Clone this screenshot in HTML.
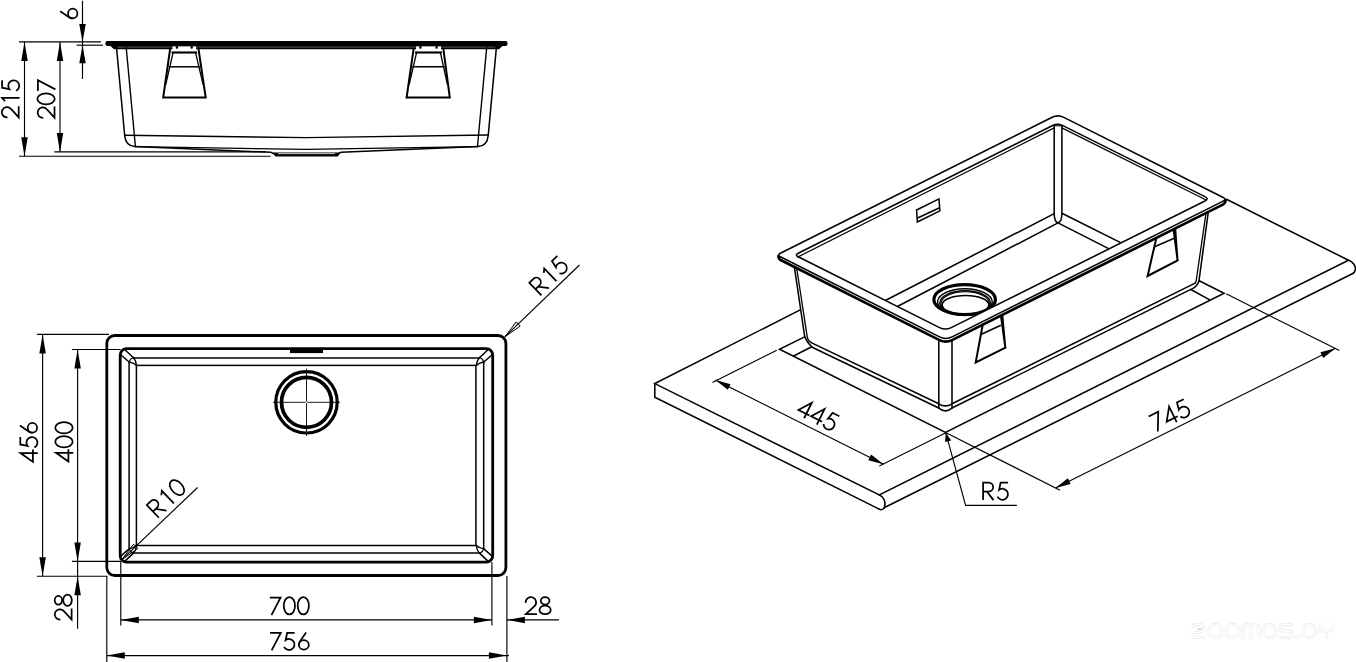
<!DOCTYPE html>
<html><head><meta charset="utf-8"><title>Sink drawing</title>
<style>html,body{margin:0;padding:0;background:#fff;}body{width:1356px;height:662px;overflow:hidden;font-family:"Liberation Sans",sans-serif;}svg{display:block;}</style></head>
<body>
<svg width="1356" height="662" viewBox="0 0 1356 662">
<rect width="1356" height="662" fill="#fff"/>
<g id="side">
<line x1="19" y1="41.9" x2="101" y2="41.9" stroke="#000" stroke-width="1.15" stroke-linecap="butt"/>
<line x1="76.7" y1="45.2" x2="103" y2="45.2" stroke="#000" stroke-width="1.15" stroke-linecap="butt"/>
<line x1="54.4" y1="151.9" x2="266" y2="151.9" stroke="#000" stroke-width="1.15" stroke-linecap="butt"/>
<line x1="19" y1="156.2" x2="270.5" y2="156.2" stroke="#000" stroke-width="1.15" stroke-linecap="butt"/>
<line x1="24.5" y1="41.9" x2="24.5" y2="156.2" stroke="#000" stroke-width="1.15" stroke-linecap="butt"/>
<polygon points="24.5,41.9 27.75,60.9 21.25,60.9" fill="#000" stroke="none" stroke-width="0" stroke-linejoin="miter"/>
<polygon points="24.5,156.2 21.25,137.2 27.75,137.2" fill="#000" stroke="none" stroke-width="0" stroke-linejoin="miter"/>
<line x1="60" y1="41.9" x2="60" y2="151.9" stroke="#000" stroke-width="1.15" stroke-linecap="butt"/>
<polygon points="60,41.9 63.25,60.9 56.75,60.9" fill="#000" stroke="none" stroke-width="0" stroke-linejoin="miter"/>
<polygon points="60,151.9 56.75,132.9 63.25,132.9" fill="#000" stroke="none" stroke-width="0" stroke-linejoin="miter"/>
<line x1="82.5" y1="0.8" x2="82.5" y2="79" stroke="#000" stroke-width="1.15" stroke-linecap="butt"/>
<polygon points="82.5,41.9 79.25,23.9 85.75,23.9" fill="#000" stroke="none" stroke-width="0" stroke-linejoin="miter"/>
<polygon points="82.5,45.2 85.75,63.2 79.25,63.2" fill="#000" stroke="none" stroke-width="0" stroke-linejoin="miter"/>
<g transform="translate(19.6,98.8) rotate(-90)" fill="none" stroke="#000" stroke-width="1.75" stroke-linecap="butt" stroke-linejoin="miter">
<g transform="translate(-20.1,0)"><path d="M1.45,-12.1 A5.2,5.2 0 1 1 9.95,-8.6 L1.5,-0.9 H12.7"/></g>
<g transform="translate(-6.7,0)"><path d="M4.2,-14.6 L7.6,-17.5 V0"/></g>
<g transform="translate(6.7,0)"><path d="M11.9,-17.5 H4.4 L2.9,-10.2 A5.5,5.5 0 1 1 1.3,-3.5"/></g>
</g>
<g transform="translate(55.4,98.95) rotate(-90)" fill="none" stroke="#000" stroke-width="1.75" stroke-linecap="butt" stroke-linejoin="miter">
<g transform="translate(-20.25,0)"><path d="M1.45,-12.1 A5.2,5.2 0 1 1 9.95,-8.6 L1.5,-0.9 H12.7"/></g>
<g transform="translate(-6.75,0)"><ellipse cx="6.85" cy="-9.35" rx="5.6" ry="8.7"/></g>
<g transform="translate(6.75,0)"><path d="M1.2,-17.5 H11.9 L2.8,0"/></g>
</g>
<g transform="translate(78.1,13.75) rotate(-90)" fill="none" stroke="#000" stroke-width="1.75" stroke-linecap="butt" stroke-linejoin="miter">
<g transform="translate(-6.95,0)"><path d="M9.4,-17.9 L3.3,-8.7 Q2.2,-7 2.25,-5.4"/><ellipse cx="7.2" cy="-5.4" rx="4.95" ry="4.7"/></g>
</g>
<rect x="105.4" y="41.1" width="402.1" height="4.8" rx="2" fill="#000"/>
<polygon points="109.5,45 503.5,45 499,49.2 113.8,49.2" fill="#000" stroke="none" stroke-width="0" stroke-linejoin="miter"/>
<rect x="117" y="46.7" width="378.5" height="0.8" fill="#666"/>
<path d="M116.5,47.4 L124.7,135.6 Q125.7,146 135,146.6" fill="none" stroke="#000" stroke-width="1.5" stroke-linejoin="round" stroke-linecap="round"/>
<path d="M126.2,47.4 L135.4,146.3" fill="none" stroke="#000" stroke-width="1.4" stroke-linejoin="round" stroke-linecap="round"/>
<path d="M496.4,47.4 L488.2,135.6 Q487.2,146 477.9,146.6" fill="none" stroke="#000" stroke-width="1.5" stroke-linejoin="round" stroke-linecap="round"/>
<path d="M486.7,47.4 L477.5,146.3" fill="none" stroke="#000" stroke-width="1.4" stroke-linejoin="round" stroke-linecap="round"/>
<path d="M124.6,135.3 L306.4,137.6 L488.3,135" fill="none" stroke="#000" stroke-width="1.4" stroke-linejoin="round" stroke-linecap="round"/>
<path d="M135,146.6 L306.4,149.4 L477.9,146.6" fill="none" stroke="#000" stroke-width="1.3" stroke-linejoin="round" stroke-linecap="round"/>
<path d="M135,146.6 L271,152.3 L273.5,153.6" fill="none" stroke="#000" stroke-width="1.5" stroke-linejoin="round" stroke-linecap="round"/>
<path d="M477.9,146.6 L341,152.3 L338.5,153.6" fill="none" stroke="#000" stroke-width="1.5" stroke-linejoin="round" stroke-linecap="round"/>
<polygon points="272.5,152.6 340.6,152.6 337.8,156.6 275.3,156.6" fill="#000" stroke="none" stroke-width="0" stroke-linejoin="miter"/>
<rect x="278" y="153.3" width="57" height="0.8" fill="#fff"/>
<path d="M170.3,47.6 L163.2,97.5 H205.7 L198.3,47.6" fill="none" stroke="#000" stroke-width="2.0" stroke-linejoin="miter" stroke-linecap="butt"/>
<path d="M173.20000000000002,52.1 L165.83636363636361,84" fill="none" stroke="#000" stroke-width="1.3" stroke-linejoin="round" stroke-linecap="round"/>
<path d="M195.4,52.1 L202.9818181818182,84" fill="none" stroke="#000" stroke-width="1.3" stroke-linejoin="round" stroke-linecap="round"/>
<rect x="172.5" y="46.4" width="23.6" height="4.9" fill="#fff"/>
<line x1="171.5" y1="52.5" x2="197.1" y2="52.5" stroke="#000" stroke-width="2.1" stroke-linecap="butt"/>
<line x1="168.7" y1="66.8" x2="199.9" y2="66.8" stroke="#000" stroke-width="1.5" stroke-linecap="butt"/>
<rect x="175.70000000000002" y="46" width="2.4" height="2.8" rx="1" fill="#000"/>
<rect x="190.5" y="46" width="2.4" height="2.8" rx="1" fill="#000"/>
<path d="M413.8,47.6 L406.6,97.5 H449.8 L443.2,47.6" fill="none" stroke="#000" stroke-width="2.0" stroke-linejoin="miter" stroke-linecap="butt"/>
<path d="M416.7,52.1 L409.26363636363635,84" fill="none" stroke="#000" stroke-width="1.3" stroke-linejoin="round" stroke-linecap="round"/>
<path d="M440.3,52.1 L447.3,84" fill="none" stroke="#000" stroke-width="1.3" stroke-linejoin="round" stroke-linecap="round"/>
<rect x="416.0" y="46.4" width="24.99999999999998" height="4.9" fill="#fff"/>
<line x1="415" y1="52.5" x2="442" y2="52.5" stroke="#000" stroke-width="2.1" stroke-linecap="butt"/>
<line x1="412.2" y1="66.8" x2="444.8" y2="66.8" stroke="#000" stroke-width="1.5" stroke-linecap="butt"/>
<rect x="419.2" y="46" width="2.4" height="2.8" rx="1" fill="#000"/>
<rect x="435.4" y="46" width="2.4" height="2.8" rx="1" fill="#000"/>
</g>
<g id="plan">
<line x1="37" y1="334.4" x2="109" y2="334.4" stroke="#000" stroke-width="1.15" stroke-linecap="butt"/>
<line x1="36.9" y1="576.2" x2="107.3" y2="576.2" stroke="#000" stroke-width="1.15" stroke-linecap="butt"/>
<line x1="71.9" y1="349.5" x2="120.5" y2="349.5" stroke="#000" stroke-width="1.15" stroke-linecap="butt"/>
<line x1="71.9" y1="561.4" x2="121.2" y2="561.4" stroke="#000" stroke-width="1.15" stroke-linecap="butt"/>
<line x1="42.6" y1="334.4" x2="42.6" y2="576.2" stroke="#000" stroke-width="1.15" stroke-linecap="butt"/>
<polygon points="42.6,334.4 45.85,353.4 39.35,353.4" fill="#000" stroke="none" stroke-width="0" stroke-linejoin="miter"/>
<polygon points="42.6,576.2 39.35,557.2 45.85,557.2" fill="#000" stroke="none" stroke-width="0" stroke-linejoin="miter"/>
<line x1="77.6" y1="349.5" x2="77.6" y2="561.4" stroke="#000" stroke-width="1.15" stroke-linecap="butt"/>
<polygon points="77.6,349.5 80.85,368.5 74.35,368.5" fill="#000" stroke="none" stroke-width="0" stroke-linejoin="miter"/>
<polygon points="77.6,561.4 74.35,542.4 80.85,542.4" fill="#000" stroke="none" stroke-width="0" stroke-linejoin="miter"/>
<line x1="77.6" y1="561.4" x2="77.6" y2="628.8" stroke="#000" stroke-width="1.15" stroke-linecap="butt"/>
<polygon points="77.6,576.2 80.85,595.2 74.35,595.2" fill="#000" stroke="none" stroke-width="0" stroke-linejoin="miter"/>
<g transform="translate(37.8,441.9) rotate(-90)" fill="none" stroke="#000" stroke-width="1.75" stroke-linecap="butt" stroke-linejoin="miter">
<g transform="translate(-20.85,0)"><path d="M9.7,0 V-17.3 L0.9,-4.9 H13.2"/></g>
<g transform="translate(-6.95,0)"><path d="M11.9,-17.5 H4.4 L2.9,-10.2 A5.5,5.5 0 1 1 1.3,-3.5"/></g>
<g transform="translate(6.95,0)"><path d="M9.4,-17.9 L3.3,-8.7 Q2.2,-7 2.25,-5.4"/><ellipse cx="7.2" cy="-5.4" rx="4.95" ry="4.7"/></g>
</g>
<g transform="translate(73.3,441.6) rotate(-90)" fill="none" stroke="#000" stroke-width="1.75" stroke-linecap="butt" stroke-linejoin="miter">
<g transform="translate(-20.85,0)"><path d="M9.7,0 V-17.3 L0.9,-4.9 H13.2"/></g>
<g transform="translate(-6.95,0)"><ellipse cx="6.85" cy="-9.35" rx="5.6" ry="8.7"/></g>
<g transform="translate(6.95,0)"><ellipse cx="6.85" cy="-9.35" rx="5.6" ry="8.7"/></g>
</g>
<g transform="translate(72.5,607.2) rotate(-90)" fill="none" stroke="#000" stroke-width="1.75" stroke-linecap="butt" stroke-linejoin="miter">
<g transform="translate(-13.9,0)"><path d="M1.45,-12.1 A5.2,5.2 0 1 1 9.95,-8.6 L1.5,-0.9 H12.7"/></g>
<g transform="translate(0,0)"><ellipse cx="6.9" cy="-14.1" rx="4.35" ry="3.7"/><ellipse cx="6.9" cy="-5.0" rx="5.6" ry="4.3"/></g>
</g>
<line x1="106.8" y1="576" x2="106.8" y2="662" stroke="#000" stroke-width="1.15" stroke-linecap="butt"/>
<line x1="506.9" y1="576" x2="506.9" y2="662" stroke="#000" stroke-width="1.15" stroke-linecap="butt"/>
<line x1="120.8" y1="562" x2="120.8" y2="625.5" stroke="#000" stroke-width="1.15" stroke-linecap="butt"/>
<line x1="491.9" y1="562" x2="491.9" y2="625.5" stroke="#000" stroke-width="1.15" stroke-linecap="butt"/>
<line x1="120.8" y1="619.9" x2="491.9" y2="619.9" stroke="#000" stroke-width="1.15" stroke-linecap="butt"/>
<polygon points="120.8,619.9 138.8,616.65 138.8,623.15" fill="#000" stroke="none" stroke-width="0" stroke-linejoin="miter"/>
<polygon points="491.9,619.9 473.9,623.15 473.9,616.65" fill="#000" stroke="none" stroke-width="0" stroke-linejoin="miter"/>
<line x1="106.8" y1="655.6" x2="509" y2="655.6" stroke="#000" stroke-width="1.15" stroke-linecap="butt"/>
<polygon points="106.8,655.6 124.8,652.35 124.8,658.85" fill="#000" stroke="none" stroke-width="0" stroke-linejoin="miter"/>
<polygon points="506.9,655.6 488.9,658.85 488.9,652.35" fill="#000" stroke="none" stroke-width="0" stroke-linejoin="miter"/>
<line x1="506.9" y1="619.9" x2="559" y2="619.9" stroke="#000" stroke-width="1.15" stroke-linecap="butt"/>
<polygon points="506.9,619.9 524.9,616.65 524.9,623.15" fill="#000" stroke="none" stroke-width="0" stroke-linejoin="miter"/>
<g transform="translate(289.5,615.1) rotate(0)" fill="none" stroke="#000" stroke-width="1.75" stroke-linecap="butt" stroke-linejoin="miter">
<g transform="translate(-20.85,0)"><path d="M1.2,-17.5 H11.9 L2.8,0"/></g>
<g transform="translate(-6.95,0)"><ellipse cx="6.85" cy="-9.35" rx="5.6" ry="8.7"/></g>
<g transform="translate(6.95,0)"><ellipse cx="6.85" cy="-9.35" rx="5.6" ry="8.7"/></g>
</g>
<g transform="translate(289.7,650.3) rotate(0)" fill="none" stroke="#000" stroke-width="1.75" stroke-linecap="butt" stroke-linejoin="miter">
<g transform="translate(-20.85,0)"><path d="M1.2,-17.5 H11.9 L2.8,0"/></g>
<g transform="translate(-6.95,0)"><path d="M11.9,-17.5 H4.4 L2.9,-10.2 A5.5,5.5 0 1 1 1.3,-3.5"/></g>
<g transform="translate(6.95,0)"><path d="M9.4,-17.9 L3.3,-8.7 Q2.2,-7 2.25,-5.4"/><ellipse cx="7.2" cy="-5.4" rx="4.95" ry="4.7"/></g>
</g>
<g transform="translate(538.2,614.9) rotate(0)" fill="none" stroke="#000" stroke-width="1.75" stroke-linecap="butt" stroke-linejoin="miter">
<g transform="translate(-13.9,0)"><path d="M1.45,-12.1 A5.2,5.2 0 1 1 9.95,-8.6 L1.5,-0.9 H12.7"/></g>
<g transform="translate(0,0)"><ellipse cx="6.9" cy="-14.1" rx="4.35" ry="3.7"/><ellipse cx="6.9" cy="-5.0" rx="5.6" ry="4.3"/></g>
</g>
<rect x="106.8" y="335.5" width="399.1" height="240" rx="8" fill="none" stroke="#000" stroke-width="2.8"/>
<rect x="120.2" y="348.7" width="372.5" height="213.5" rx="6.5" fill="none" stroke="#000" stroke-width="2.8"/>
<rect x="136.4" y="365.4" width="339.5" height="180.1" fill="none" stroke="#000" stroke-width="1.5"/>
<line x1="129.1" y1="362" x2="129.1" y2="548.9" stroke="#000" stroke-width="1.5" stroke-linecap="butt"/>
<line x1="483.7" y1="362" x2="483.7" y2="548.9" stroke="#000" stroke-width="1.5" stroke-linecap="butt"/>
<line x1="133.2" y1="358" x2="479.7" y2="358" stroke="#000" stroke-width="1.5" stroke-linecap="butt"/>
<line x1="133.2" y1="553" x2="479.7" y2="553" stroke="#000" stroke-width="1.5" stroke-linecap="butt"/>
<path d="M125.2,350 L133.2,357.5" fill="none" stroke="#000" stroke-width="1.5" stroke-linejoin="round" stroke-linecap="round"/>
<path d="M121,355 L129.1,362" fill="none" stroke="#000" stroke-width="1.5" stroke-linejoin="round" stroke-linecap="round"/>
<path d="M129.1,362 Q130.2,358.6 133.2,357.5" fill="none" stroke="#000" stroke-width="1.3" stroke-linejoin="round" stroke-linecap="round"/>
<path d="M129.1,362 Q133.5,362.6 136.4,365.4" fill="none" stroke="#000" stroke-width="1.3" stroke-linejoin="round" stroke-linecap="round"/>
<path d="M133.2,357.5 Q136.2,360.5 136.4,365.4" fill="none" stroke="#000" stroke-width="1.3" stroke-linejoin="round" stroke-linecap="round"/>
<path d="M125.2,560.9 L133.2,553.4" fill="none" stroke="#000" stroke-width="1.5" stroke-linejoin="round" stroke-linecap="round"/>
<path d="M121,555.9 L129.1,548.9" fill="none" stroke="#000" stroke-width="1.5" stroke-linejoin="round" stroke-linecap="round"/>
<path d="M129.1,548.9 Q130.2,552.3 133.2,553.4" fill="none" stroke="#000" stroke-width="1.3" stroke-linejoin="round" stroke-linecap="round"/>
<path d="M129.1,548.9 Q133.5,548.3 136.4,545.5" fill="none" stroke="#000" stroke-width="1.3" stroke-linejoin="round" stroke-linecap="round"/>
<path d="M133.2,553.4 Q136.2,550.4 136.4,545.5" fill="none" stroke="#000" stroke-width="1.3" stroke-linejoin="round" stroke-linecap="round"/>
<path d="M487.7,350 L479.7,357.5" fill="none" stroke="#000" stroke-width="1.5" stroke-linejoin="round" stroke-linecap="round"/>
<path d="M491.9,355 L483.8,362" fill="none" stroke="#000" stroke-width="1.5" stroke-linejoin="round" stroke-linecap="round"/>
<path d="M483.8,362 Q482.7,358.6 479.7,357.5" fill="none" stroke="#000" stroke-width="1.3" stroke-linejoin="round" stroke-linecap="round"/>
<path d="M483.8,362 Q479.4,362.6 476.5,365.4" fill="none" stroke="#000" stroke-width="1.3" stroke-linejoin="round" stroke-linecap="round"/>
<path d="M479.7,357.5 Q476.7,360.5 476.5,365.4" fill="none" stroke="#000" stroke-width="1.3" stroke-linejoin="round" stroke-linecap="round"/>
<path d="M487.7,560.9 L479.7,553.4" fill="none" stroke="#000" stroke-width="1.5" stroke-linejoin="round" stroke-linecap="round"/>
<path d="M491.9,555.9 L483.8,548.9" fill="none" stroke="#000" stroke-width="1.5" stroke-linejoin="round" stroke-linecap="round"/>
<path d="M483.8,548.9 Q482.7,552.3 479.7,553.4" fill="none" stroke="#000" stroke-width="1.3" stroke-linejoin="round" stroke-linecap="round"/>
<path d="M483.8,548.9 Q479.4,548.3 476.5,545.5" fill="none" stroke="#000" stroke-width="1.3" stroke-linejoin="round" stroke-linecap="round"/>
<path d="M479.7,553.4 Q476.7,550.4 476.5,545.5" fill="none" stroke="#000" stroke-width="1.3" stroke-linejoin="round" stroke-linecap="round"/>
<rect x="290" y="349.6" width="33" height="3.5" fill="#000"/>
<circle cx="306.5" cy="402.3" r="30.7" fill="none" stroke="#000" stroke-width="3.2"/>
<circle cx="306.5" cy="402.3" r="25" fill="none" stroke="#000" stroke-width="3.7"/>
<line x1="273" y1="402.3" x2="340" y2="402.3" stroke="#000" stroke-width="0.9" stroke-linecap="butt"/>
<line x1="306.5" y1="368.6" x2="306.5" y2="435.8" stroke="#000" stroke-width="0.9" stroke-linecap="butt"/>
<circle cx="306.5" cy="402.3" r="0.9" fill="#fff"/>
<line x1="197.6" y1="487.5" x2="121.6" y2="559.8" stroke="#000" stroke-width="1.15" stroke-linecap="butt"/>
<polygon points="121.6,559.8 133.66,544.19 137.8,548.53" fill="none" stroke="#000" stroke-width="1" stroke-linejoin="miter"/>
<g transform="translate(172.9,504.4) rotate(-43.6)" fill="none" stroke="#000" stroke-width="1.75" stroke-linecap="butt" stroke-linejoin="miter">
<g transform="translate(-21.55,0)"><path d="M2.2,0 V-17.5 H7.8 A4.45,4.45 0 0 1 7.8,-8.6 H2.2 M5.9,-8.6 L12.6,0"/></g>
<g transform="translate(-6.25,0)"><path d="M4.2,-14.6 L7.6,-17.5 V0"/></g>
<g transform="translate(7.65,0)"><ellipse cx="6.85" cy="-9.35" rx="5.6" ry="8.7"/></g>
</g>
<line x1="579.5" y1="265" x2="505" y2="336.7" stroke="#000" stroke-width="1.15" stroke-linecap="butt"/>
<polygon points="505,336.7 516.17,321.92 520.2,326.1" fill="none" stroke="#000" stroke-width="1" stroke-linejoin="miter"/>
<g transform="translate(555.4,282) rotate(-43.9)" fill="none" stroke="#000" stroke-width="1.75" stroke-linecap="butt" stroke-linejoin="miter">
<g transform="translate(-21.55,0)"><path d="M2.2,0 V-17.5 H7.8 A4.45,4.45 0 0 1 7.8,-8.6 H2.2 M5.9,-8.6 L12.6,0"/></g>
<g transform="translate(-6.25,0)"><path d="M4.2,-14.6 L7.6,-17.5 V0"/></g>
<g transform="translate(7.65,0)"><path d="M11.9,-17.5 H4.4 L2.9,-10.2 A5.5,5.5 0 1 1 1.3,-3.5"/></g>
</g>
</g>
<g id="iso">
<path d="M800.2,309.9 L654.8,383.6 L879.3,495 L1348.5,260.2 L1226.5,199.3" fill="none" stroke="#000" stroke-width="1.55" stroke-linejoin="miter" stroke-linecap="round"/>
<path d="M654.8,383.6 V397.3 L878.7,508.9" fill="none" stroke="#000" stroke-width="1.55" stroke-linejoin="miter" stroke-linecap="round"/>
<path d="M884.1,507.7 L1353.3,273.2" fill="none" stroke="#000" stroke-width="1.55" stroke-linejoin="round" stroke-linecap="round"/>
<path d="M879.3,495 C883.5,496.5 886.3,502 884.3,507.4 Q883.4,509.8 881,509.7 L878.7,508.9" fill="none" stroke="#000" stroke-width="1.55" stroke-linejoin="round" stroke-linecap="round"/>
<path d="M1348.5,260.2 C1352.5,261.3 1356.2,266 1355.2,270 Q1354.6,272.4 1353.3,273.2" fill="none" stroke="#000" stroke-width="1.55" stroke-linejoin="round" stroke-linecap="round"/>
<path d="M804.6,336.9 L779.5,349.3 L945.5,432.4 L1224.1,293.3 L1199.2,280.7" fill="none" stroke="#000" stroke-width="1.55" stroke-linejoin="miter" stroke-linecap="round"/>
<line x1="793.1" y1="356.2" x2="811.7" y2="346.8" stroke="#000" stroke-width="1.55" stroke-linecap="butt"/>
<line x1="1210.2" y1="300.1" x2="1190.8" y2="289.5" stroke="#000" stroke-width="1.55" stroke-linecap="butt"/>
<path d="M794.3,266.3 L804.6,336 Q806.4,341.8 811.8,346.7" fill="none" stroke="#000" stroke-width="1.55" stroke-linejoin="round" stroke-linecap="round"/>
<path d="M796.6,267.5 L807.3,337.4 Q807.9,340.9 811.2,342.6" fill="none" stroke="#000" stroke-width="1.3" stroke-linejoin="round" stroke-linecap="round"/>
<line x1="811.2" y1="342.6" x2="938.8" y2="403.8" stroke="#000" stroke-width="1.55" stroke-linecap="butt"/>
<line x1="811.6" y1="347" x2="939.3" y2="408.3" stroke="#000" stroke-width="1.55" stroke-linecap="butt"/>
<path d="M938.8,340 V408.3 M952,340 V408.3 M938.8,403.8 Q945.4,408 952,403.8 M939.3,408.3 Q945.4,413.5 951.5,408.3" fill="none" stroke="#000" stroke-width="1.55" stroke-linejoin="round" stroke-linecap="round"/>
<line x1="952" y1="403.8" x2="1195.6" y2="282.9" stroke="#000" stroke-width="1.55" stroke-linecap="butt"/>
<line x1="951.5" y1="408.3" x2="1190.8" y2="289.4" stroke="#000" stroke-width="1.55" stroke-linecap="butt"/>
<path d="M1208.3,212 L1199.5,277 Q1199.2,286.6 1190.8,289.4" fill="none" stroke="#000" stroke-width="1.55" stroke-linejoin="round" stroke-linecap="round"/>
<path d="M1206,213.2 L1196.2,280.6 Q1196,282.4 1195,283.2" fill="none" stroke="#000" stroke-width="1.3" stroke-linejoin="round" stroke-linecap="round"/>
<path d="M1054.2,125.5 V214 Q1054.5,222.4 1058,222.7 Q1061.6,222.4 1061.9,214 V125.5" fill="none" stroke="#000" stroke-width="1.55" stroke-linejoin="round" stroke-linecap="round"/>
<line x1="1054.2" y1="213.6" x2="885.8" y2="300.3" stroke="#000" stroke-width="1.55" stroke-linecap="butt"/>
<line x1="1058" y1="222.9" x2="897.8" y2="306.3" stroke="#000" stroke-width="1.55" stroke-linecap="butt"/>
<line x1="1061.9" y1="213.2" x2="1120.6" y2="242.6" stroke="#000" stroke-width="1.55" stroke-linecap="butt"/>
<line x1="1058" y1="222.9" x2="1108.6" y2="248.6" stroke="#000" stroke-width="1.55" stroke-linecap="butt"/>
<path d="M916.6,210 L939,198.9 L939.9,210.8 L917.3,222 Z M917.1,218.2 L939.6,207.8" fill="none" stroke="#000" stroke-width="1.5" stroke-linejoin="miter" stroke-linecap="round"/>
<clipPath id="cpd"><polygon points="880,250 1060,250 1060,272.6 945.4,330.3 880,298"/></clipPath>
<g clip-path="url(#cpd)" fill="none" stroke="#000">
<ellipse cx="964.65" cy="299.6" rx="30.8" ry="14.95" stroke-width="3.2"/>
<ellipse cx="964.9" cy="302" rx="27.3" ry="13.3" stroke-width="1.5"/>
<ellipse cx="965.1" cy="302.9" rx="25.3" ry="12.2" stroke-width="1.4"/>
<ellipse cx="965.2" cy="303.4" rx="24.2" ry="11.6" stroke-width="1.1"/>
<ellipse cx="965.5" cy="304.9" rx="23.4" ry="9.4" stroke-width="1.7"/>
</g>
<path d="M780.37,256.8 Q776.8,255 780.38,253.21 L1052.19,117.31 Q1058,114.4 1063.81,117.32 L1223.23,197.5 Q1226.8,199.3 1223.22,201.09 L952.06,336.87 Q945.8,340 939.55,336.85 Z" fill="none" stroke="#000" stroke-width="1.55" stroke-linejoin="round" stroke-linecap="round"/>
<path d="M778.4,256.2 Q778.2,258.6 780.6,260 L939.5,340.1 Q945.8,343.3 952,340.1 L1223.3,204.4 Q1225.8,202.8 1225.6,200.4" fill="none" stroke="#000" stroke-width="2.7" stroke-linejoin="round" stroke-linecap="round"/>
<path d="M798.18,256.79 Q794.6,255 798.17,253.21 L1052.14,125.69 Q1057.5,123 1062.87,125.68 L1204.93,196.57 Q1209.4,198.8 1204.93,201.03 L951.22,327.6 Q945.4,330.5 939.59,327.59 Z" fill="none" stroke="#000" stroke-width="1.55" stroke-linejoin="round" stroke-linecap="round"/>
<path d="M797.6,257.1 L1054.2,127.9" fill="none" stroke="#000" stroke-width="1.2" stroke-linejoin="round" stroke-linecap="round"/>
<path d="M1061.9,127.9 L1206.2,200" fill="none" stroke="#000" stroke-width="1.2" stroke-linejoin="round" stroke-linecap="round"/>
<line x1="1054.2" y1="125.8" x2="1061.9" y2="125.8" stroke="#000" stroke-width="1.1" stroke-linecap="butt"/>
<path d="M982.8,324.3 L975.7,362.4 L1005.5,347.6" fill="none" stroke="#000" stroke-width="2.0" stroke-linejoin="miter" stroke-linecap="round"/>
<polygon points="1003.2,313.8 1006.3,347.9 1004.4,347.9 999.9,315.5" fill="#000" stroke="none" stroke-width="0" stroke-linejoin="miter"/>
<line x1="982" y1="333.9" x2="1000.9" y2="325.3" stroke="#000" stroke-width="1.6" stroke-linecap="butt"/>
<path d="M1156.2,238.6 L1147.6,276 L1177.7,260.3" fill="none" stroke="#000" stroke-width="2.0" stroke-linejoin="miter" stroke-linecap="round"/>
<polygon points="1176.2,228.4 1178.5,260.5 1176.6,260.5 1172.7,230.2" fill="#000" stroke="none" stroke-width="0" stroke-linejoin="miter"/>
<line x1="1154.6" y1="246.7" x2="1174.2" y2="238.2" stroke="#000" stroke-width="1.6" stroke-linecap="butt"/>
<line x1="776.8" y1="350.2" x2="712.4" y2="382.6" stroke="#000" stroke-width="1.15" stroke-linecap="butt"/>
<line x1="945.4" y1="432.9" x2="879.3" y2="466" stroke="#000" stroke-width="1.15" stroke-linecap="butt"/>
<line x1="715.4" y1="380.1" x2="883.5" y2="464.2" stroke="#000" stroke-width="1.15" stroke-linecap="butt"/>
<polygon points="715.4,380.1 730.58,384.17 727.77,389.8" fill="#000" stroke="none" stroke-width="0" stroke-linejoin="miter"/>
<polygon points="883.5,464.2 868.32,460.13 871.13,454.5" fill="#000" stroke="none" stroke-width="0" stroke-linejoin="miter"/>
<line x1="945.5" y1="432.4" x2="1060" y2="490.2" stroke="#000" stroke-width="1.15" stroke-linecap="butt"/>
<line x1="1226.2" y1="293.8" x2="1339.4" y2="350.6" stroke="#000" stroke-width="1.15" stroke-linecap="butt"/>
<line x1="1055.5" y1="488" x2="1335.6" y2="348.3" stroke="#000" stroke-width="1.15" stroke-linecap="butt"/>
<polygon points="1055.5,488 1067.88,478.31 1070.69,483.95" fill="#000" stroke="none" stroke-width="0" stroke-linejoin="miter"/>
<polygon points="1335.6,348.3 1323.22,357.99 1320.41,352.35" fill="#000" stroke="none" stroke-width="0" stroke-linejoin="miter"/>
<g transform="translate(814.5,423.4) rotate(26.4)" fill="none" stroke="#000" stroke-width="1.75" stroke-linecap="butt" stroke-linejoin="miter">
<g transform="translate(-21.3,0)"><path d="M9.7,0 V-17.3 L0.9,-4.9 H13.2"/></g>
<g transform="translate(-7.1,0)"><path d="M9.7,0 V-17.3 L0.9,-4.9 H13.2"/></g>
<g transform="translate(7.1,0)"><path d="M11.9,-17.5 H4.4 L2.9,-10.2 A5.5,5.5 0 1 1 1.3,-3.5"/></g>
</g>
<g transform="translate(1174.4,423.3) rotate(-26.3)" fill="none" stroke="#000" stroke-width="1.75" stroke-linecap="butt" stroke-linejoin="miter">
<g transform="translate(-21.3,0)"><path d="M1.2,-17.5 H11.9 L2.8,0"/></g>
<g transform="translate(-7.1,0)"><path d="M9.7,0 V-17.3 L0.9,-4.9 H13.2"/></g>
<g transform="translate(7.1,0)"><path d="M11.9,-17.5 H4.4 L2.9,-10.2 A5.5,5.5 0 1 1 1.3,-3.5"/></g>
</g>
<path d="M945.8,432.8 L965.6,505.3 H1016.9" fill="none" stroke="#000" stroke-width="1.15" stroke-linejoin="miter" stroke-linecap="butt"/>
<polygon points="945.8,432.8 951.16,440.46 945.08,442.12" fill="#000" stroke="none" stroke-width="0" stroke-linejoin="miter"/>
<g transform="translate(980.9,500.1) rotate(0)" fill="none" stroke="#000" stroke-width="1.75" stroke-linecap="butt" stroke-linejoin="miter">
<g transform="translate(0,0)"><path d="M2.2,0 V-17.5 H7.8 A4.45,4.45 0 0 1 7.8,-8.6 H2.2 M5.9,-8.6 L12.6,0"/></g>
<g transform="translate(15.3,0)"><path d="M11.9,-17.5 H4.4 L2.9,-10.2 A5.5,5.5 0 1 1 1.3,-3.5"/></g>
</g>
</g>
<g fill="none" stroke="#e9e9e9" stroke-width="3" stroke-linecap="round" stroke-linejoin="round"><path d="M1193,626.5 Q1193,624.5 1196,624.5 H1201 Q1204,624.5 1204,629.5 Q1204,631.0 1201,631.5 L1195,633.0 Q1193,634.0 1193,637.5 H1204"/><rect x="1209" y="624.5" width="13" height="13.0" rx="6" ry="6"/><rect x="1226" y="624.5" width="13" height="13.0" rx="6" ry="6"/><path d="M1243,637.5 V629.5 Q1243,624.5 1247.5,624.5 Q1251,624.5 1251,629.5 V637.5 M1251,629.5 Q1251,624.5 1255,624.5 Q1259,624.5 1259,629.5 V637.5"/><rect x="1263" y="624.5" width="13" height="13.0" rx="6" ry="6"/><path d="M1292,624.5 H1283.5 Q1280,624.5 1280,627.7 Q1280,631.0 1283.5,631.0 H1288.5 Q1292,631.0 1292,634.3 Q1292,637.5 1288.5,637.5 H1280"/><circle cx="1297.5" cy="637.0" r="0.8"/><rect x="1303" y="624.5" width="13" height="13.0" rx="6" ry="6"/><path d="M1320,624.5 V627.5 Q1320,631.0 1324,631.0 H1329 Q1333,631.0 1333,627.5 V624.5 M1326.5,631.0 V637.5"/></g>
<g fill="none" stroke="#ffffff" stroke-width="1.6" stroke-linecap="round" stroke-linejoin="round"><path d="M1193,626.5 Q1193,624.5 1196,624.5 H1201 Q1204,624.5 1204,629.5 Q1204,631.0 1201,631.5 L1195,633.0 Q1193,634.0 1193,637.5 H1204"/><rect x="1209" y="624.5" width="13" height="13.0" rx="6" ry="6"/><rect x="1226" y="624.5" width="13" height="13.0" rx="6" ry="6"/><path d="M1243,637.5 V629.5 Q1243,624.5 1247.5,624.5 Q1251,624.5 1251,629.5 V637.5 M1251,629.5 Q1251,624.5 1255,624.5 Q1259,624.5 1259,629.5 V637.5"/><rect x="1263" y="624.5" width="13" height="13.0" rx="6" ry="6"/><path d="M1292,624.5 H1283.5 Q1280,624.5 1280,627.7 Q1280,631.0 1283.5,631.0 H1288.5 Q1292,631.0 1292,634.3 Q1292,637.5 1288.5,637.5 H1280"/><circle cx="1297.5" cy="637.0" r="0.8"/><rect x="1303" y="624.5" width="13" height="13.0" rx="6" ry="6"/><path d="M1320,624.5 V627.5 Q1320,631.0 1324,631.0 H1329 Q1333,631.0 1333,627.5 V624.5 M1326.5,631.0 V637.5"/></g>
<ellipse cx="1199" cy="629" rx="2.6" ry="1.6" fill="#e4e4e4"/>
</svg>
</body></html>
